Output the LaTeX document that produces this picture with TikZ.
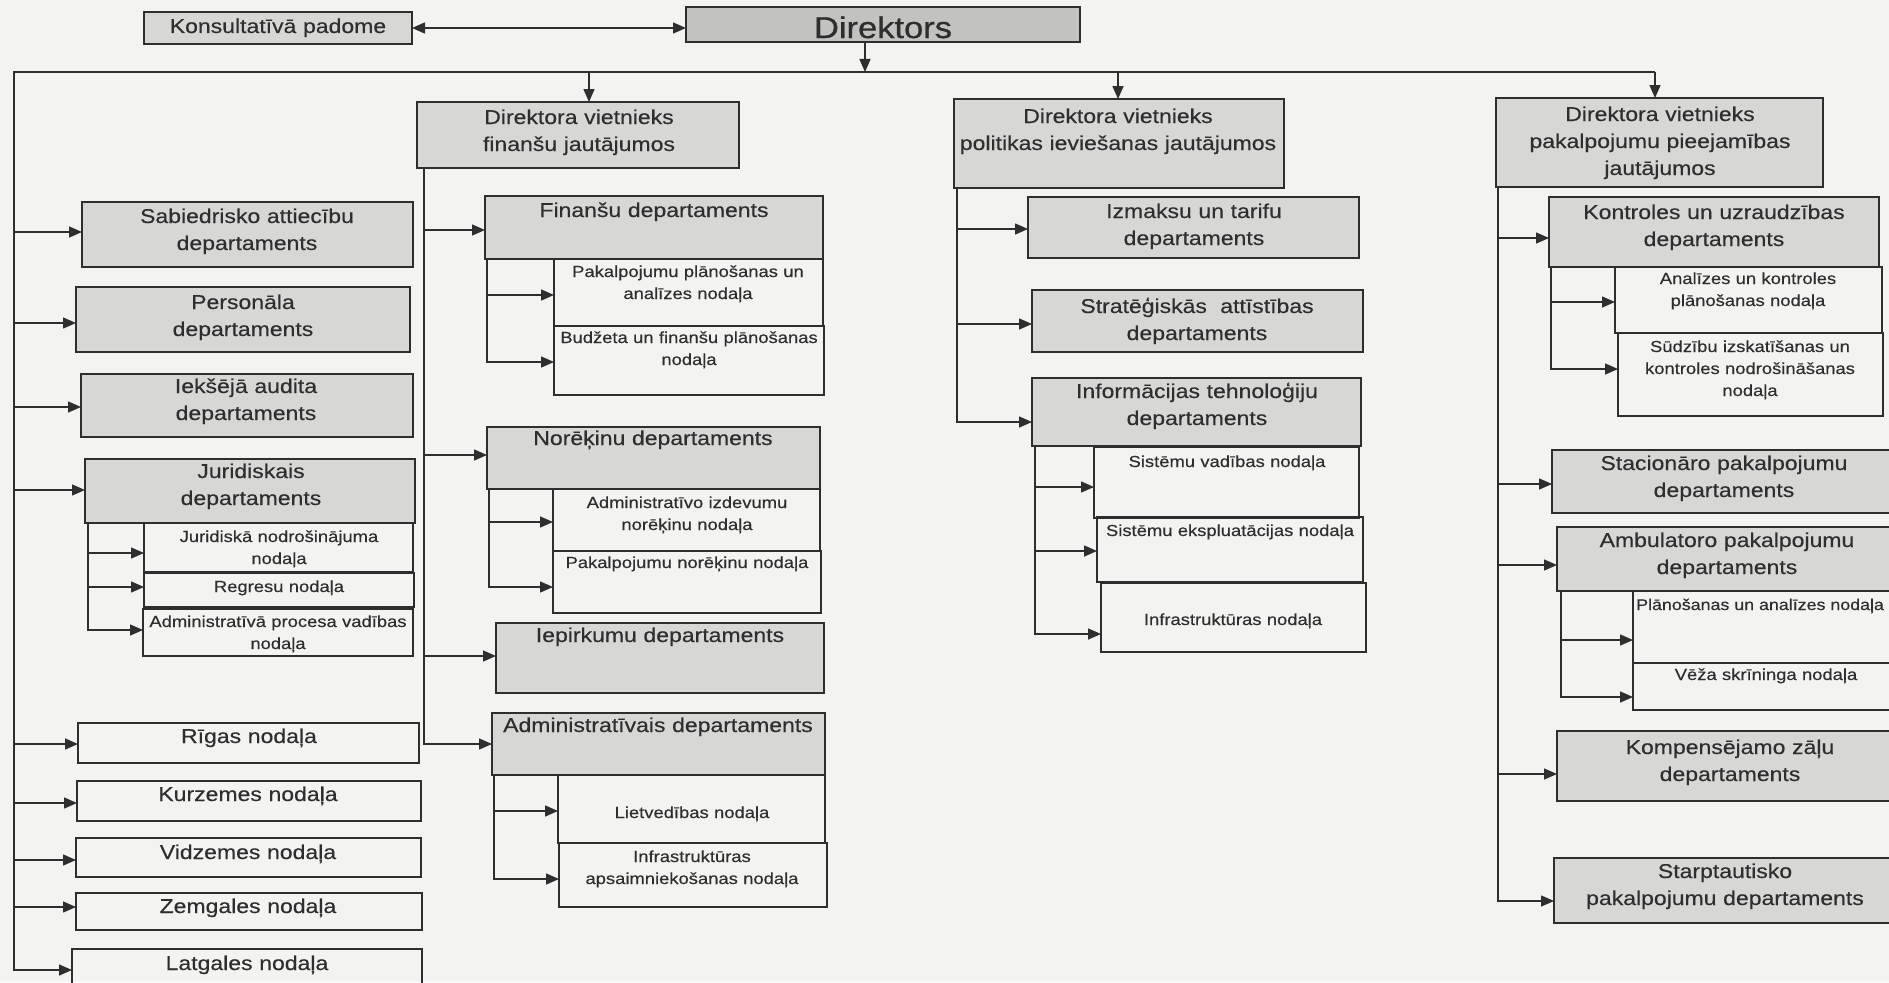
\documentclass[tikz,border=0pt]{standalone}
\usepackage{fontspec}
\setmainfont{Liberation Sans}[FakeStretch=1.15, FakeBold=0.35]
\newfontfamily\headfont{Liberation Sans}[FakeStretch=1.15, FakeBold=0.8]
\usetikzlibrary{arrows.meta}

\definecolor{paper}{HTML}{F3F3F1}
\definecolor{ink}{HTML}{2E2E2E}
\definecolor{shade}{HTML}{D7D7D5}
\definecolor{shadedark}{HTML}{C2C2C0}

\tikzset{
  box/.style={draw=ink, line width=1.5pt, inner sep=0pt, outer sep=0pt},
  shaded/.style={box, fill=shade},
  darkbox/.style={box, fill=shadedark},
  plain/.style={box},
  ln/.style={draw=ink, line width=1.5pt, line join=miter},
  arr/.style={ln, -{Triangle[length=13pt,width=11pt]}},
  both/.style={ln, {Triangle[length=13pt,width=11pt]}-{Triangle[length=13pt,width=11pt]}},
  big/.style={anchor=base, inner sep=0pt, text width=380pt, align=center,
              text=ink, font=\fontsize{20}{27}\selectfont},
  small/.style={big, font=\fontsize{16}{22}\selectfont},
  huge/.style={big, font=\headfont\fontsize{30}{36}\selectfont},
  smallleft/.style={anchor=base west, inner sep=0pt, text=ink,
              font=\fontsize{15.5}{22}\selectfont},
}

% box from its corners: [style]{name}{x1}{y1}{x2}{y2}
\newcommand\bx[6][shaded]{%
  \node[#1, minimum width={#5-#3}, minimum height={#6-#4}] (#2)
    at ({(#3+#5)/2},{(#4+#6)/2}) {};}
% text placed by centre x and first baseline: [style]{name}{x}{y}{text}
\newcommand\tx[5][big]{\node[#1] (#2) at (#3,#4) {#5};}
% branch arrow from a trunk at x=#1, height #2, into node #3
\newcommand\feed[3]{\draw[arr] (#1,#2) -- (#3.west |- #1,#2);}
% trunk below node #1 at x=#2, down to height #3, ending in node #4
\newcommand\trunk[4]{\draw[arr] (#1.south -| #2,0) -- (#2,#3) -- (#4.west |- #2,#3);}

\begin{document}
\begin{tikzpicture}[x=1pt, y=-1pt]
\useasboundingbox (0,0) rectangle (1889,982);
\clip (0,0) rectangle (1889,982);
\fill[paper] (0,0) rectangle (1889,982);

% ---------------- top ----------------
\bx{kons}{144}{12}{412}{44}
\tx{konsT}{278}{33}{Konsultatīvā padome}
\bx[darkbox]{dir}{686}{7}{1080}{42}
\tx[huge]{dirT}{883}{38}{Direktors}
\draw[both] (kons.east) -- (dir.west |- kons.east);

\coordinate (hub)  at (865,72);
\coordinate (busL) at (14,72);
\coordinate (busR) at (1655,72);
\draw[arr] (dir.south -| hub) -- (hub);

% deputies
\bx{vfin}{417}{102}{739}{168}
\tx{vfinT}{579}{124}{Direktora vietnieks\\finanšu jautājumos}
\bx{vpol}{954}{99}{1284}{188}
\tx{vpolT}{1118}{123}{Direktora vietnieks\\politikas ieviešanas jautājumos}
\bx{vpak}{1496}{98}{1823}{187}
\tx{vpakT}{1660}{121}{Direktora vietnieks\\pakalpojumu pieejamības\\jautājumos}

\draw[arr] (589,72) -- (vfin.north -| 589,0);
\draw[arr] (1118,72) -- (vpol.north -| 1118,0);
\draw[arr] (busR) -- (vpak.north -| busR);

% ---------------- left column ----------------
\bx{sab}{82}{202}{413}{267}
\tx{sabT}{247}{223}{Sabiedrisko attiecību\\departaments}
\bx{pers}{76}{287}{410}{352}
\tx{persT}{243}{309}{Personāla\\departaments}
\bx{iek}{81}{374}{413}{437}
\tx{iekT}{246}{393}{Iekšējā audita\\departaments}
\bx{jur}{85}{459}{415}{523}
\tx{jurT}{251}{478}{Juridiskais\\departaments}
\bx[plain]{jur1}{144}{523}{413}{572}
\tx[small]{jur1T}{279}{542}{Juridiskā nodrošinājuma\\nodaļa}
\bx[plain]{jur2}{144}{573}{414}{607}
\tx[small]{jur2T}{279}{592}{Regresu nodaļa}
\bx[plain]{jur3}{143}{609}{413}{656}
\tx[small]{jur3T}{278}{627}{Administratīvā procesa vadības\\nodaļa}

\bx[plain]{riga}{78}{723}{419}{763}
\tx{rigaT}{249}{743}{Rīgas nodaļa}
\bx[plain]{kurz}{77}{781}{421}{821}
\tx{kurzT}{248}{801}{Kurzemes nodaļa}
\bx[plain]{vidz}{76}{838}{421}{877}
\tx{vidzT}{248}{859}{Vidzemes nodaļa}
\bx[plain]{zemg}{76}{893}{422}{930}
\tx{zemgT}{248}{913}{Zemgales nodaļa}
\bx[plain]{latg}{72}{949}{422}{1000}
\tx{latgT}{247}{970}{Latgales nodaļa}

% main bus and the left trunk ending in the last regional office
\draw[arr] (busR) -- (busL) -- (14,970) -- (latg.west |- 14,970);
\feed{14}{232}{sab}
\feed{14}{323}{pers}
\feed{14}{407}{iek}
\feed{14}{490}{jur}
\feed{14}{744}{riga}
\feed{14}{803}{kurz}
\feed{14}{860}{vidz}
\feed{14}{907}{zemg}

\trunk{jur}{88}{630}{jur3}
\feed{88}{553}{jur1}
\feed{88}{587}{jur2}

% ---------------- finance column ----------------
\bx{fin}{485}{196}{823}{259}
\tx{finT}{654}{217}{Finanšu departaments}
\bx[plain]{fin1}{554}{259}{823}{326}
\tx[small]{fin1T}{688}{277}{Pakalpojumu plānošanas un\\analīzes nodaļa}
\bx[plain]{fin2}{554}{326}{824}{395}
\tx[small]{fin2T}{689}{343}{Budžeta un finanšu plānošanas\\nodaļa}

\bx{nor}{487}{427}{820}{489}
\tx{norT}{653}{445}{Norēķinu departaments}
\bx[plain]{nor1}{553}{489}{820}{551}
\tx[small]{nor1T}{687}{508}{Administratīvo izdevumu\\norēķinu nodaļa}
\bx[plain]{nor2}{553}{551}{821}{613}
\tx[small]{nor2T}{687}{568}{Pakalpojumu norēķinu nodaļa}

\bx{iep}{496}{623}{824}{693}
\tx{iepT}{660}{642}{Iepirkumu departaments}

\bx{adm}{492}{713}{825}{775}
\tx{admT}{658}{732}{Administratīvais departaments}
\bx[plain]{adm1}{558}{775}{825}{843}
\tx[small]{adm1T}{692}{818}{Lietvedības nodaļa}
\bx[plain]{adm2}{559}{843}{827}{907}
\tx[small]{adm2T}{692}{862}{Infrastruktūras\\apsaimniekošanas nodaļa}

\trunk{vfin}{424}{744}{adm}
\feed{424}{230}{fin}
\feed{424}{455}{nor}
\feed{424}{656}{iep}

\trunk{fin}{487}{362}{fin2}
\feed{487}{295}{fin1}
\trunk{nor}{489}{587}{nor2}
\feed{489}{522}{nor1}
\trunk{adm}{494}{879}{adm2}
\feed{494}{811}{adm1}

% ---------------- policy column ----------------
\bx{izm}{1028}{197}{1359}{258}
\tx{izmT}{1194}{218}{Izmaksu un tarifu\\departaments}
\bx{str}{1032}{290}{1363}{352}
\tx{strT}{1197}{313}{Stratēģiskās~ attīstības\\departaments}
\bx{inf}{1032}{378}{1361}{446}
\tx{infT}{1197}{398}{Informācijas tehnoloģiju\\departaments}
\bx[plain]{inf1}{1094}{447}{1359}{518}
\tx[small]{inf1T}{1227}{467}{Sistēmu vadības nodaļa}
\bx[plain]{inf2}{1097}{517}{1363}{582}
\tx[small]{inf2T}{1230}{536}{Sistēmu ekspluatācijas nodaļa}
\bx[plain]{inf3}{1101}{583}{1366}{652}
\tx[small]{inf3T}{1233}{625}{Infrastruktūras nodaļa}

\trunk{vpol}{957}{422}{inf}
\feed{957}{229}{izm}
\feed{957}{324}{str}
\trunk{inf}{1035}{634}{inf3}
\feed{1035}{487}{inf1}
\feed{1035}{551}{inf2}

% ---------------- services column ----------------
\bx{kon}{1549}{197}{1879}{267}
\tx{konT}{1714}{219}{Kontroles un uzraudzības\\departaments}
\bx[plain]{kon1}{1615}{267}{1882}{333}
\tx[small]{kon1T}{1748}{284}{Analīzes un kontroles\\plānošanas nodaļa}
\bx[plain]{kon2}{1618}{333}{1883}{416}
\tx[small]{kon2T}{1750}{352}{Sūdzību izskatīšanas un\\kontroles nodrošināšanas\\nodaļa}

\bx{sta}{1552}{450}{1896}{513}
\tx{staT}{1724}{470}{Stacionāro pakalpojumu\\departaments}
\bx{amb}{1557}{527}{1897}{591}
\tx{ambT}{1727}{547}{Ambulatoro pakalpojumu\\departaments}
\bx[plain]{amb1}{1633}{591}{1899}{663}
\tx[smallleft]{amb1T}{1636}{610}{Plānošanas un analīzes nodaļa}
\bx[plain]{amb2}{1633}{663}{1899}{710}
\tx[small]{amb2T}{1766}{680}{Vēža skrīninga nodaļa}
\bx{kom}{1557}{731}{1903}{801}
\tx{komT}{1730}{754}{Kompensējamo zāļu\\departaments}
\bx{stp}{1554}{858}{1896}{923}
\tx{stpT}{1725}{878}{Starptautisko\\pakalpojumu departaments}

\trunk{vpak}{1498}{901}{stp}
\feed{1498}{238}{kon}
\feed{1498}{484}{sta}
\feed{1498}{565}{amb}
\feed{1498}{774}{kom}
\trunk{kon}{1551}{369}{kon2}
\feed{1551}{302}{kon1}
\trunk{amb}{1561}{697}{amb2}
\feed{1561}{640}{amb1}
\end{tikzpicture}
\end{document}
